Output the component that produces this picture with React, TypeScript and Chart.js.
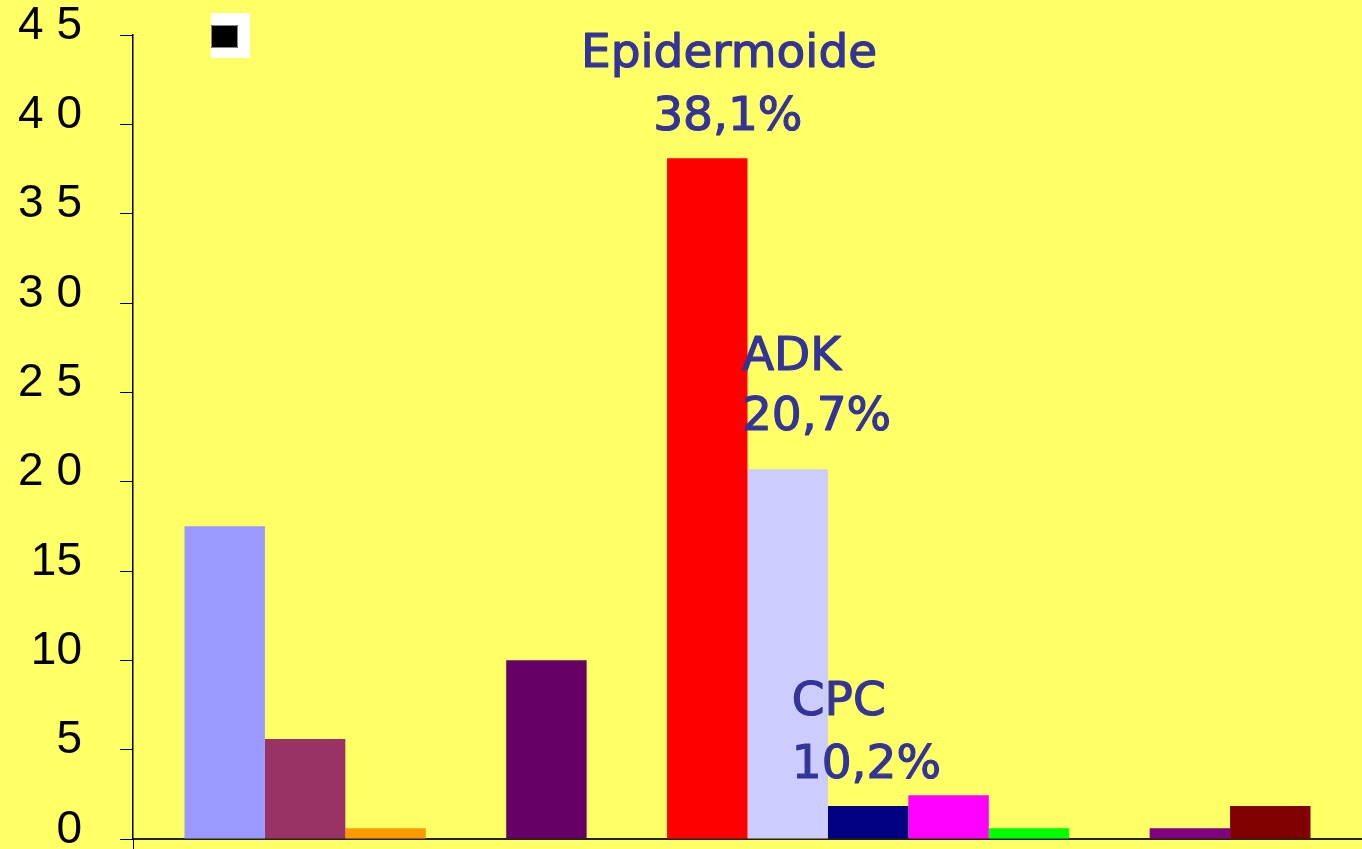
import React, { useEffect, useRef } from "react";
import { Chart, registerables } from "chart.js";

Chart.register(...registerables);

// ---- Data ----
const categories: string[] = [""];
const seriesNames: string[] = [
  "Série 1", "Série 2", "Série 3", "Série 4", "Série 5", "Série 6", "Série 7",
  "Série 8", "Série 9", "Série 10", "Série 11", "Série 12", "Série 13", "Série 14",
];
const seriesValues: (number | null)[] = [
  17.5, 5.6, 0.6, null, 10.0, null, 38.1, 20.7, 1.85, 2.45, 0.6, null, 0.6, 1.85,
];
const seriesColors: string[] = [
  "#9999FF", "#993366", "#FF9900", "#FFFFCC", "#660066", "#CCFFFF", "#FF0000",
  "#CCCCFF", "#000080", "#FF00FF", "#00FF00", "#00FFFF", "#800080", "#800000",
];
const yTickValues: number[] = [0, 5, 10, 15, 20, 25, 30, 35, 40, 45];
const yTickLabels: string[] = ["0", "5", "10", "15", "2 0", "2 5", "3 0", "3 5", "4 0", "4 5"];

const annotationTexts: string[] = ["Epidermoide", "38,1%", "ADK", "20,7%", "CPC", "10,2%"];

// ---- Styling / placement (not data) ----
const BG = "#FFFF66";
const ANNOT_COLOR = "#333399";
const annotationPlacement = [
  { xf: 0.485, v: 43.2, align: "center" },
  { xf: 0.484, v: 39.7, align: "center" },
  { xf: 0.4955, v: 26.25, align: "left" },
  { xf: 0.4955, v: 22.9, align: "left" },
  { xf: 0.536, v: 6.94, align: "left" },
  { xf: 0.536, v: 3.41, align: "left" },
];

const decorPlugin = {
  id: "decor",
  beforeDraw(chart: any) {
    const ctx = chart.ctx;
    ctx.save();
    ctx.fillStyle = BG;
    ctx.fillRect(0, 0, chart.width, chart.height);
    ctx.restore();
  },
  afterDatasetsDraw(chart: any) {
    const ctx = chart.ctx;
    const area = chart.chartArea;
    const y = chart.scales.y;
    ctx.save();
    ctx.fillStyle = ANNOT_COLOR;
    ctx.strokeStyle = ANNOT_COLOR;
    ctx.lineWidth = 1.2;
    ctx.lineJoin = "round";
    ctx.font = "47px 'Comic Sans MS', 'DejaVu Sans', sans-serif";
    ctx.textBaseline = "alphabetic";
    annotationTexts.forEach((t, i) => {
      const p = annotationPlacement[i];
      ctx.textAlign = p.align;
      const px = area.left + p.xf * (area.right - area.left);
      const py = y.getPixelForValue(p.v);
      ctx.fillText(t, px, py);
      ctx.strokeText(t, px, py);
    });
    // broken legend marker
    ctx.fillStyle = "#FFFFFF";
    ctx.fillRect(211, 13, 39, 45);
    ctx.fillStyle = "#000000";
    ctx.fillRect(211, 25, 27, 23);
    ctx.strokeStyle = "#888888";
    ctx.lineWidth = 1;
    ctx.strokeRect(211.5, 25.5, 26, 22);
    ctx.restore();
  },
};

export default function App() {
  const canvasRef = useRef<HTMLCanvasElement | null>(null);

  useEffect(() => {
    const canvas = canvasRef.current;
    if (!canvas) return;
    const chart = new Chart(canvas, {
      type: "bar",
      data: {
        labels: categories,
        datasets: seriesNames.map((name, i) => ({
          label: name,
          data: [seriesValues[i]],
          backgroundColor: seriesColors[i],
          borderWidth: 0,
          barPercentage: 1,
          categoryPercentage: 0.9162,
        })),
      },
      options: {
        animation: false,
        responsive: false,
        devicePixelRatio: 1,
        layout: { padding: { top: 35, left: 0, right: 0, bottom: 0 } },
        plugins: {
          legend: { display: false },
          tooltip: { enabled: false },
          title: { display: false },
        },
        scales: {
          x: {
            type: "category",
            offset: true,
            ticks: { display: false },
            grid: {
              display: true,
              drawOnChartArea: false,
              drawTicks: true,
              tickLength: 10,
              color: "#000000",
              offset: true,
            },
            border: { display: true, color: "#222222", width: 2 },
            afterFit: (s: any) => {
              s.height = 10;
              s.paddingLeft = 0;
              s.paddingRight = 0;
            },
          },
          y: {
            min: 0,
            max: 45,
            afterBuildTicks: (s: any) => {
              s.ticks = yTickValues.map((v) => ({ value: v }));
            },
            ticks: {
              callback: (_v: any, idx: number) => yTickLabels[idx],
              color: "#000000",
              font: { family: "'Liberation Sans', Arial, sans-serif", size: 46 },
              padding: 38,
              labelOffset: -9,
            },
            grid: {
              display: true,
              drawOnChartArea: false,
              drawTicks: true,
              tickLength: 13,
              color: "#000000",
            },
            border: { display: true, color: "#000000", width: 1.5 },
            afterFit: (s: any) => {
              s.width = 133;
              s.paddingTop = 0;
              s.paddingBottom = 0;
            },
          },
        },
      } as any,
      plugins: [decorPlugin],
    });
    return () => chart.destroy();
  }, []);

  return (
    <div
      style={{
        position: "fixed",
        left: 0,
        top: 0,
        width: 1362,
        height: 849,
        background: BG,
        overflow: "hidden",
      }}
    >
      <canvas ref={canvasRef} width={1362} height={849} style={{ display: "block", width: 1362, height: 849 }} />
    </div>
  );
}
